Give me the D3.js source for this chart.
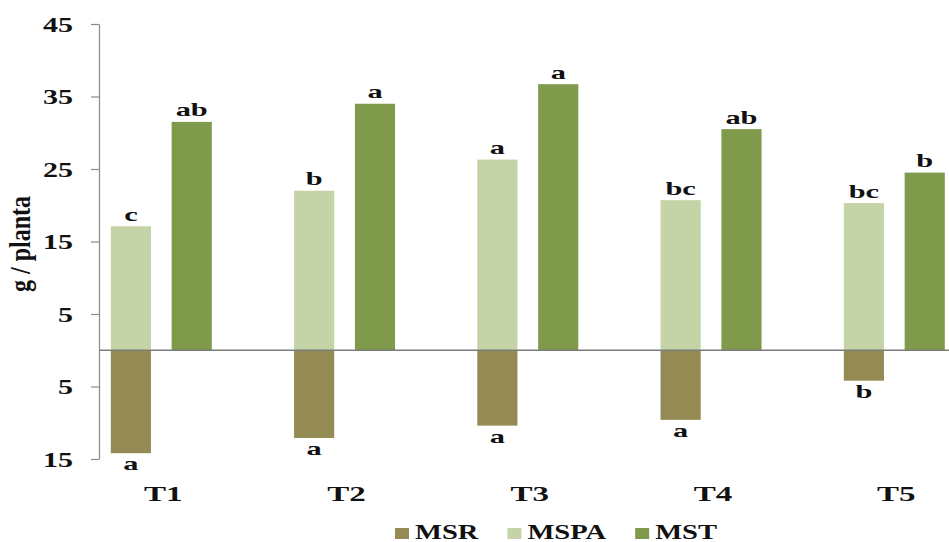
<!DOCTYPE html>
<html>
<head>
<meta charset="utf-8">
<script src="https://cdn.jsdelivr.net/npm/d3@7"></script>
<style>
  html, body { margin: 0; padding: 0; background: #ffffff; }
  svg { display: block; }
  text { font-family: "Liberation Serif", "Times New Roman", serif; font-weight: bold; fill: #111; }
</style>
</head>
<body>
<svg id="chart" width="949" height="542"></svg>
<script>
// Dry matter per plant by treatment (g / planta)
const categories = ["T1", "T2", "T3", "T4", "T5"];
const seriesNames = ["MSR", "MSPA", "MST"];
const seriesColors = ["#948b54", "#c4d4a6", "#7f9a4a"];
// root dry matter is plotted downwards (negative)
const msrValues  = [-14.2, -12.1, -10.4, -9.6, -4.2];
const mspaValues = [17.1, 22.0, 26.3, 20.7, 20.3];
const mstValues  = [31.5, 34.0, 36.7, 30.5, 24.5];
// significance letters for each bar
const msrLetters  = ["a", "a", "a", "a", "b"];
const mspaLetters = ["c", "b", "a", "bc", "bc"];
const mstLetters  = ["ab", "a", "a", "ab", "b"];
const yTicks = [45, 35, 25, 15, 5, -5, -15];
const yTitle = "g / planta";

const svg = d3.select("#chart");
const W = 949, H = 542;
const axisX = 99;
const stretch = 1.5; // wide lettering

const y = d3.scaleLinear().domain([-15, 45]).range([459, 24]);
const x = d3.scalePoint().domain(categories).range([161.3, 894.3]);
const slot = d3.scaleBand().domain([0, 1]).range([-50.5, 50.5]).paddingInner(0.34);

const rows = categories.map((c, i) => ({
  cat: c,
  bars: [
    { s: 0, slot: 0, v: msrValues[i],  letter: msrLetters[i] },
    { s: 1, slot: 0, v: mspaValues[i], letter: mspaLetters[i] },
    { s: 2, slot: 1, v: mstValues[i],  letter: mstLetters[i] }
  ]
}));

const groups = svg.selectAll("g.cat").data(rows).join("g")
  .attr("class", "cat")
  .attr("transform", d => `translate(${x(d.cat)},0)`);

groups.selectAll("rect").data(d => d.bars).join("rect")
  .attr("x", d => slot(d.slot))
  .attr("width", slot.bandwidth())
  .attr("y", d => y(Math.max(0, d.v)))
  .attr("height", d => Math.abs(y(d.v) - y(0)))
  .attr("fill", d => seriesColors[d.s]);

groups.selectAll("text.lbl").data(d => d.bars).join("text")
  .attr("class", "lbl")
  .attr("text-anchor", "middle")
  .style("font-size", "19px")
  .attr("transform", d => {
    const cx = slot(d.slot) + slot.bandwidth() / 2;
    const ty = d.v >= 0 ? y(d.v) - 5.5 : y(d.v) + 17;
    return `translate(${cx},${ty}) scale(1.6,1)`;
  })
  .text(d => d.letter);

// zero baseline
svg.append("line")
  .attr("x1", axisX).attr("x2", W)
  .attr("y1", y(0)).attr("y2", y(0))
  .attr("stroke", "#7c7c7c").attr("stroke-width", 1.5);

// value axis
const yAxis = d3.axisLeft(y)
  .tickValues(yTicks)
  .tickFormat(d => Math.abs(d))
  .tickSize(8)
  .tickSizeOuter(0)
  .tickPadding(18);

const ay = svg.append("g")
  .attr("transform", `translate(${axisX},0)`)
  .call(yAxis);
ay.select(".domain").attr("stroke", "#8a8a8a").attr("stroke-width", 1.2);
ay.selectAll(".tick line").attr("stroke", "#8a8a8a").attr("stroke-width", 1.2);
ay.selectAll(".tick text")
  .attr("fill", "#111")
  .style("font-size", "20px")
  .style("font-family", "'Liberation Serif', serif")
  .style("font-weight", "bold")
  .each(function () {
    const t = d3.select(this);
    const tx = +t.attr("x");
    t.attr("x", 0).attr("dy", "0.35em")
     .attr("transform", `translate(${tx},0) scale(${stretch},1)`);
  });

// category labels
svg.selectAll("text.cat").data(categories).join("text")
  .attr("class", "cat")
  .attr("text-anchor", "middle")
  .style("font-size", "22px")
  .attr("transform", d => `translate(${x(d) + 2},501) scale(${stretch},1)`)
  .text(d => d);

// axis title
svg.append("text")
  .attr("text-anchor", "middle")
  .style("font-size", "24px")
  .attr("transform", `translate(30,244) scale(1.25,1) rotate(-90)`)
  .text(yTitle);

// legend
const legend = svg.append("g");
const legendStretch = 1.36;
let lx = 395;
seriesNames.forEach((name, i) => {
  legend.append("rect")
    .attr("x", lx).attr("y", 528)
    .attr("width", 14).attr("height", 11)
    .attr("fill", seriesColors[i]);
  const t = legend.append("text")
    .style("font-size", "21px")
    .attr("transform", `translate(${lx + 20},539) scale(${legendStretch},1)`)
    .text(name);
  const w = t.node().getComputedTextLength() * legendStretch;
  lx += 20 + w + 29;
});
</script>
</body>
</html>
